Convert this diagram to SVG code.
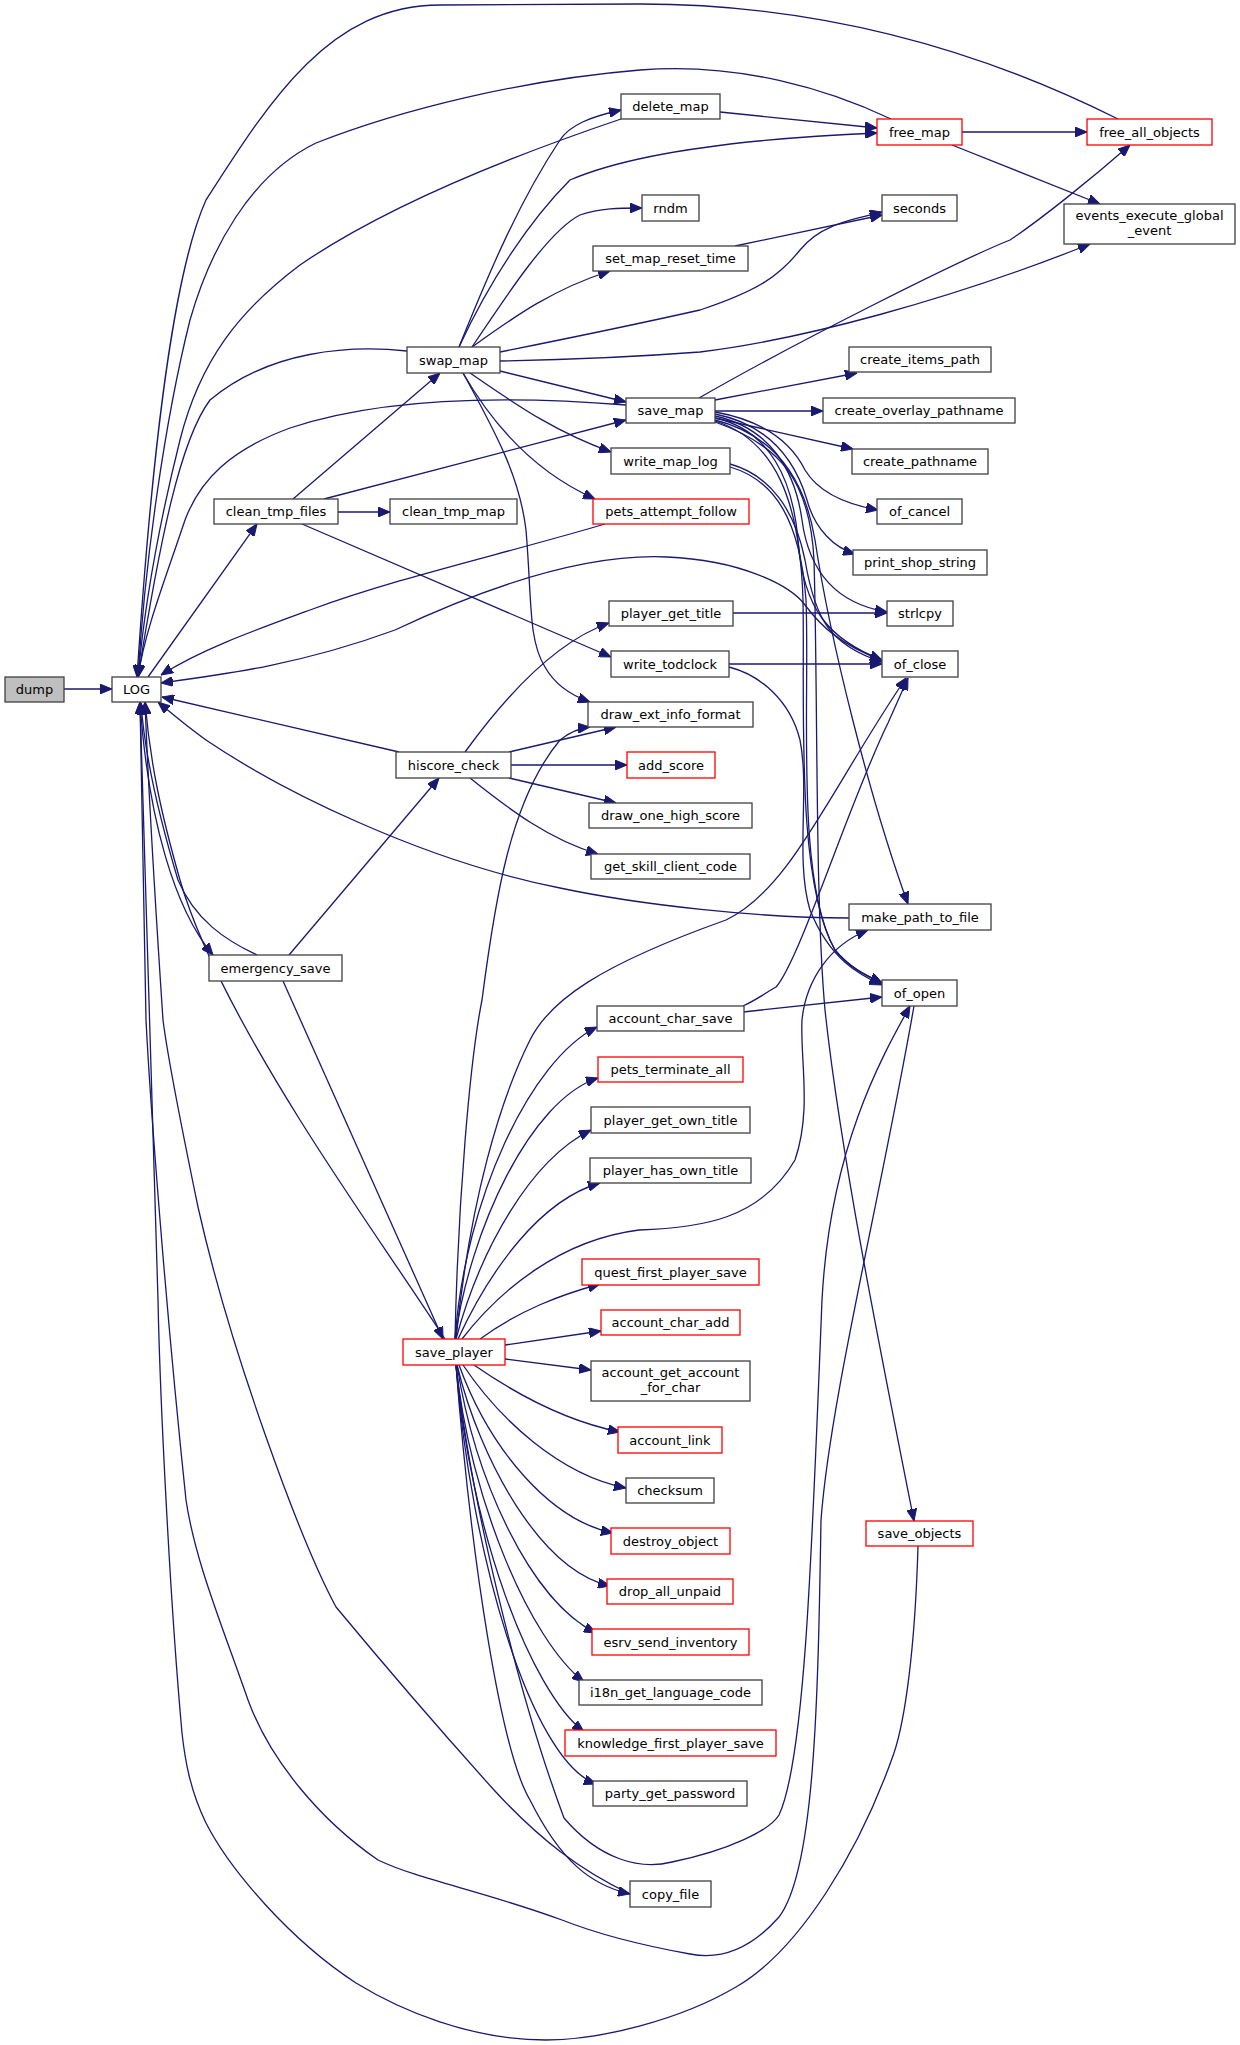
<svg xmlns="http://www.w3.org/2000/svg" width="1240" height="2045" viewBox="0 0 1240 2045">
<style>
.n rect{fill:#fff;stroke:#404040;stroke-width:1.3}
.r rect{fill:#fff;stroke:#ff0000;stroke-width:1.3}
.g rect{fill:#bfbfbf;stroke:#404040;stroke-width:1.3}
text{font-family:"DejaVu Sans","Liberation Sans",sans-serif;font-size:13px;fill:#000;text-anchor:middle}
.e path{fill:none;stroke:#191970;stroke-width:1.3;marker-end:url(#a)}
</style>
<defs>
<marker id="a" markerUnits="userSpaceOnUse" markerWidth="12" markerHeight="10" refX="12" refY="5" orient="auto">
<path d="M0,0 L12,5 L0,10 z" fill="#191970" stroke="#191970"/>
</marker>
</defs>
<rect width="1240" height="2045" fill="#fff"/>
<g class="e" id="edges">
<path d="M64,689 L112,689"/>
<path d="M148,677 L257,524"/>
<path d="M140,702 C148,820 175,910 213,955"/>
<path d="M257,955 C225,940 195,920 178,880 C160,820 145,760 141,703"/>
<path d="M293,499 L440,373"/>
<path d="M338,512 L390,512"/>
<path d="M324,499 L626,420"/>
<path d="M302,524 L611,657"/>
<path d="M1118,119 C960,40 800,4 640,4 L440,5 C330,5 270,100 206,200 C170,280 150,480 137,677"/>
<path d="M891,119 C830,90 740,62 640,70 C520,80 400,110 316,143 C250,175 210,250 190,320 C165,420 145,560 138,677"/>
<path d="M621,119 C500,160 380,210 300,265 C240,310 200,360 180,440 C160,520 145,600 138,677"/>
<path d="M407,351 C350,345 270,350 210,400 C180,440 160,540 138,677"/>
<path d="M626,405 C500,395 380,398 290,428 C230,450 200,480 185,520 C165,580 145,630 138,677"/>
<path d="M459,347 C490,270 520,200 560,140 C570,125 590,117 621,110"/>
<path d="M459,347 C490,280 530,220 570,180 C640,150 760,138 877,133"/>
<path d="M472,347 C510,290 550,230 580,215 C600,208 620,208 642,208"/>
<path d="M472,347 C510,320 550,290 610,271"/>
<path d="M500,352 C560,340 620,328 700,310 C760,290 780,275 800,250 C820,225 850,220 882,212"/>
<path d="M500,361 C560,360 620,358 700,352 C800,340 950,300 1090,244"/>
<path d="M500,371 L626,402"/>
<path d="M470,373 C510,400 550,430 611,452"/>
<path d="M463,373 C490,420 530,470 595,499"/>
<path d="M463,373 C500,440 520,480 526,530 C532,600 528,640 545,667 C555,685 570,695 590,702"/>
<path d="M720,112 L877,128"/>
<path d="M962,132 L1087,132"/>
<path d="M952,145 L1100,204"/>
<path d="M735,246 L882,215"/>
<path d="M699,398 C800,340 960,260 1010,240 C1040,220 1090,180 1130,145"/>
<path d="M715,400 L857,373"/>
<path d="M715,411 L823,411"/>
<path d="M715,418 L853,449"/>
<path d="M715,412 C760,420 790,440 805,470 C820,495 850,505 878,510"/>
<path d="M715,414 C770,425 795,460 807,500 C815,530 835,548 855,554"/>
<path d="M715,416 C770,428 795,470 802,520 C810,580 845,605 887,612"/>
<path d="M715,418 C770,430 793,480 798,540 C803,610 830,640 882,660"/>
<path d="M715,420 C775,435 805,480 815,540 C830,640 870,800 908,904"/>
<path d="M715,421 C775,440 800,500 803,600 C805,700 795,880 835,950 C850,968 865,975 882,983"/>
<path d="M715,422 C780,445 810,480 814,560 C818,700 815,900 825,1010 C840,1150 880,1350 914,1521"/>
<path d="M730,464 C770,475 795,510 805,560 C815,620 830,645 882,662"/>
<path d="M730,467 C775,480 800,520 806,600 C810,700 795,880 835,950 C850,968 865,975 882,983"/>
<path d="M605,524 C500,555 400,577 310,610 C250,632 200,650 161,675"/>
<path d="M882,660 C840,645 820,625 805,605 C790,585 740,560 667,557 C580,553 480,590 395,630 C300,665 220,675 161,683"/>
<path d="M733,613 L887,613"/>
<path d="M729,664 L882,664"/>
<path d="M729,667 C760,675 790,700 800,740 C810,790 795,860 810,910 C830,960 860,975 882,985"/>
<path d="M399,752 L162,697"/>
<path d="M465,752 C510,690 560,640 609,623"/>
<path d="M509,752 L616,727"/>
<path d="M511,765 L627,765"/>
<path d="M509,778 L616,803"/>
<path d="M470,778 C510,810 550,840 598,854"/>
<path d="M849,918 C760,918 640,905 560,888 C420,860 280,790 206,740 C185,725 170,712 158,702"/>
<path d="M289,955 L439,778"/>
<path d="M283,981 L443,1339"/>
<path d="M445,1339 C400,1270 350,1200 300,1120 C250,1040 200,950 180,880 C160,810 150,760 145,702"/>
<path d="M630,1894 C580,1870 540,1840 494,1790 C440,1730 380,1660 336,1607 C300,1540 230,1350 198,1207 C180,1120 168,1060 163,1020 C155,900 148,780 145,702"/>
<path d="M914,1006 C880,1200 830,1400 821,1520 C818,1700 815,1870 779,1917 C750,1950 720,1960 690,1954 C640,1945 600,1935 562,1920 C480,1890 420,1880 378,1860 C320,1820 270,1760 248,1700 C220,1620 195,1560 186,1500 C165,1300 150,1100 146,1020 C143,900 141,780 140,702"/>
<path d="M918,1546 C915,1650 905,1720 894,1753 C860,1850 800,1950 736,1987 C680,2020 600,2040 546,2040 C470,2040 400,2010 356,1983 C290,1940 230,1870 206,1823 C190,1790 185,1760 182,1733 C170,1600 160,1400 158,1300 C150,1000 145,850 140,702"/>
<path d="M455,1339 C458,1200 470,1060 482,1000 C495,900 510,800 560,740 C570,732 580,728 590,727"/>
<path d="M456,1339 C470,1200 500,1100 530,1040 C550,1000 600,965 726,920 C790,890 830,790 906,678"/>
<path d="M743,1006 C760,998 770,990 776,987 C800,960 850,800 888,723 L908,678"/>
<path d="M743,1012 L882,997"/>
<path d="M462,1339 C500,1290 560,1240 639,1230 C700,1228 760,1220 795,1160 C812,1110 800,1060 802,1020 C806,980 830,945 868,930"/>
<path d="M455,1339 C465,1200 530,1060 597,1027"/>
<path d="M455,1339 C470,1230 530,1100 598,1078"/>
<path d="M456,1339 C480,1250 530,1160 591,1130"/>
<path d="M458,1339 C490,1270 540,1200 600,1183"/>
<path d="M480,1339 C520,1310 560,1295 600,1284"/>
<path d="M505,1345 L601,1331"/>
<path d="M505,1359 L591,1370"/>
<path d="M474,1365 C510,1390 560,1420 620,1432"/>
<path d="M463,1365 C500,1420 560,1475 626,1488"/>
<path d="M459,1365 C490,1450 550,1520 613,1533"/>
<path d="M457,1365 C480,1460 540,1570 610,1586"/>
<path d="M457,1365 C475,1480 530,1600 596,1633"/>
<path d="M456,1365 C470,1500 530,1640 584,1682"/>
<path d="M456,1365 C470,1530 530,1690 584,1732"/>
<path d="M456,1365 C470,1550 530,1760 596,1784"/>
<path d="M456,1365 C470,1500 520,1700 564,1818 C600,1860 640,1870 672,1862 C730,1850 770,1830 779,1815 C805,1760 812,1550 822,1300 C830,1150 880,1060 910,1006"/>
<path d="M456,1365 C470,1550 500,1750 530,1800 C560,1860 590,1885 630,1894"/>
</g>
<g id="dump" class="g"><rect x="5" y="677" width="59" height="25"/><text x="34.5" y="694">dump</text></g>
<g id="LOG" class="n"><rect x="112" y="677" width="49" height="25"/><text x="136.5" y="694">LOG</text></g>
<g id="clean_tmp_files" class="n"><rect x="214" y="499" width="124" height="25"/><text x="276" y="516">clean_tmp_files</text></g>
<g id="clean_tmp_map" class="n"><rect x="390" y="499" width="127" height="25"/><text x="453.5" y="516">clean_tmp_map</text></g>
<g id="swap_map" class="n"><rect x="407" y="347" width="93" height="26"/><text x="453.5" y="365">swap_map</text></g>
<g id="delete_map" class="n"><rect x="621" y="94" width="99" height="25"/><text x="670.5" y="111">delete_map</text></g>
<g id="free_map" class="r"><rect x="877" y="119" width="85" height="26"/><text x="919.5" y="137">free_map</text></g>
<g id="free_all_objects" class="r"><rect x="1087" y="119" width="125" height="26"/><text x="1149.5" y="137">free_all_objects</text></g>
<g id="rndm" class="n"><rect x="642" y="195" width="57" height="26"/><text x="670.5" y="213">rndm</text></g>
<g id="seconds" class="n"><rect x="882" y="195" width="75" height="26"/><text x="919.5" y="213">seconds</text></g>
<g id="set_map_reset_time" class="n"><rect x="593" y="246" width="155" height="25"/><text x="670.5" y="263">set_map_reset_time</text></g>
<g id="events_execute_global_event" class="n"><rect x="1064" y="204" width="171" height="40"/><text x="1149.5" y="220">events_execute_global</text><text x="1149.5" y="235">_event</text></g>
<g id="create_items_path" class="n"><rect x="849" y="347" width="142" height="25"/><text x="920" y="364">create_items_path</text></g>
<g id="save_map" class="n"><rect x="626" y="398" width="89" height="25"/><text x="670.5" y="415">save_map</text></g>
<g id="create_overlay_pathname" class="n"><rect x="823" y="398" width="192" height="25"/><text x="919" y="415">create_overlay_pathname</text></g>
<g id="create_pathname" class="n"><rect x="852" y="449" width="136" height="25"/><text x="920" y="466">create_pathname</text></g>
<g id="write_map_log" class="n"><rect x="611" y="448" width="119" height="26"/><text x="670.5" y="466">write_map_log</text></g>
<g id="pets_attempt_follow" class="r"><rect x="593" y="499" width="156" height="25"/><text x="671" y="516">pets_attempt_follow</text></g>
<g id="of_cancel" class="n"><rect x="877" y="499" width="85" height="25"/><text x="919.5" y="516">of_cancel</text></g>
<g id="print_shop_string" class="n"><rect x="853" y="550" width="134" height="25"/><text x="920" y="567">print_shop_string</text></g>
<g id="player_get_title" class="n"><rect x="609" y="601" width="124" height="25"/><text x="671" y="618">player_get_title</text></g>
<g id="strlcpy" class="n"><rect x="887" y="601" width="66" height="25"/><text x="920" y="618">strlcpy</text></g>
<g id="write_todclock" class="n"><rect x="611" y="651" width="118" height="26"/><text x="670" y="669">write_todclock</text></g>
<g id="of_close" class="n"><rect x="882" y="651" width="76" height="26"/><text x="920" y="669">of_close</text></g>
<g id="draw_ext_info_format" class="n"><rect x="588" y="702" width="165" height="25"/><text x="670.5" y="719">draw_ext_info_format</text></g>
<g id="hiscore_check" class="n"><rect x="396" y="752" width="115" height="26"/><text x="453.5" y="770">hiscore_check</text></g>
<g id="add_score" class="r"><rect x="627" y="752" width="88" height="26"/><text x="671" y="770">add_score</text></g>
<g id="draw_one_high_score" class="n"><rect x="589" y="803" width="163" height="25"/><text x="670.5" y="820">draw_one_high_score</text></g>
<g id="get_skill_client_code" class="n"><rect x="591" y="854" width="159" height="25"/><text x="670.5" y="871">get_skill_client_code</text></g>
<g id="make_path_to_file" class="n"><rect x="849" y="904" width="142" height="26"/><text x="920" y="922">make_path_to_file</text></g>
<g id="emergency_save" class="n"><rect x="209" y="955" width="133" height="26"/><text x="275.5" y="973">emergency_save</text></g>
<g id="of_open" class="n"><rect x="882" y="980" width="75" height="26"/><text x="919.5" y="998">of_open</text></g>
<g id="account_char_save" class="n"><rect x="597" y="1006" width="147" height="25"/><text x="670.5" y="1023">account_char_save</text></g>
<g id="pets_terminate_all" class="r"><rect x="598" y="1057" width="145" height="25"/><text x="670.5" y="1074">pets_terminate_all</text></g>
<g id="player_get_own_title" class="n"><rect x="591" y="1107" width="159" height="26"/><text x="670.5" y="1125">player_get_own_title</text></g>
<g id="player_has_own_title" class="n"><rect x="590" y="1158" width="161" height="25"/><text x="670.5" y="1175">player_has_own_title</text></g>
<g id="quest_first_player_save" class="r"><rect x="582" y="1259" width="177" height="26"/><text x="670.5" y="1277">quest_first_player_save</text></g>
<g id="account_char_add" class="r"><rect x="601" y="1310" width="139" height="25"/><text x="670.5" y="1327">account_char_add</text></g>
<g id="save_player" class="r"><rect x="403" y="1339" width="102" height="26"/><text x="454" y="1357">save_player</text></g>
<g id="account_get_account_for_char" class="n"><rect x="591" y="1361" width="159" height="40"/><text x="670.5" y="1377">account_get_account</text><text x="670.5" y="1392">_for_char</text></g>
<g id="account_link" class="r"><rect x="618" y="1427" width="104" height="26"/><text x="670" y="1445">account_link</text></g>
<g id="checksum" class="n"><rect x="626" y="1478" width="88" height="25"/><text x="670" y="1495">checksum</text></g>
<g id="save_objects" class="r"><rect x="866" y="1521" width="107" height="25"/><text x="919.5" y="1538">save_objects</text></g>
<g id="destroy_object" class="r"><rect x="611" y="1528" width="119" height="26"/><text x="670.5" y="1546">destroy_object</text></g>
<g id="drop_all_unpaid" class="r"><rect x="607" y="1579" width="126" height="25"/><text x="670" y="1596">drop_all_unpaid</text></g>
<g id="esrv_send_inventory" class="r"><rect x="592" y="1629" width="157" height="26"/><text x="670.5" y="1647">esrv_send_inventory</text></g>
<g id="i18n_get_language_code" class="n"><rect x="579" y="1680" width="183" height="25"/><text x="670.5" y="1697">i18n_get_language_code</text></g>
<g id="knowledge_first_player_save" class="r"><rect x="565" y="1730" width="211" height="26"/><text x="670.5" y="1748">knowledge_first_player_save</text></g>
<g id="party_get_password" class="n"><rect x="593" y="1781" width="154" height="25"/><text x="670" y="1798">party_get_password</text></g>
<g id="copy_file" class="n"><rect x="630" y="1881" width="81" height="26"/><text x="670.5" y="1899">copy_file</text></g>
</svg>
